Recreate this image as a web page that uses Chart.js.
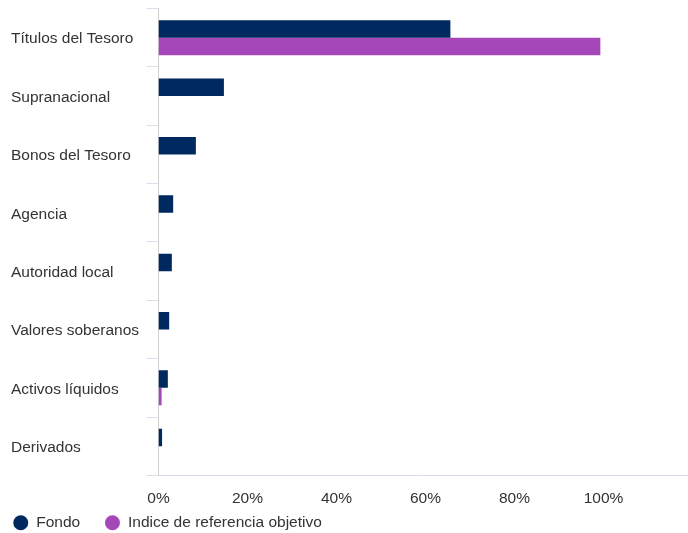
<!DOCTYPE html>
<html>
<head>
<meta charset="utf-8">
<script src="https://cdn.jsdelivr.net/npm/chart.js@4/dist/chart.umd.min.js"></script>
<style>
  html, body { margin: 0; padding: 0; background: #fff; }
  #wrap { width: 688px; height: 533px; position: relative; }
</style>
</head>
<body>
<div id="wrap"><canvas id="chart-allocation"></canvas></div>
<script>
// categories and values (percent)
var categories = ['Títulos del Tesoro', 'Supranacional', 'Bonos del Tesoro', 'Agencia',
                  'Autoridad local', 'Valores soberanos', 'Activos líquidos', 'Derivados'];
var fondo = [65.6, 14.7, 8.4, 3.3, 3.0, 2.4, 2.1, 0.8];
var indice = [99.3, null, null, null, null, null, 0.7, null];
var xTicks = [0, 20, 40, 60, 80, 100];

var navy = '#002a5f';
var purple = '#a547b8';

Chart.defaults.font.family = '"Liberation Sans", Arial, sans-serif';
Chart.defaults.font.size = 15.5;
Chart.defaults.color = '#333333';

// move the legend row to where it sits in the picture
var legendShift = {
    id: 'legendShift',
    afterLayout: (chart) => {
        chart.legend.left -= 22.5;
        chart.legend.top -= 32.5;
        chart.legend.bottom = chart.height;
    },
};

var ctx = document.getElementById('chart-allocation').getContext('2d');
var myChart = new Chart(ctx, {
    type: 'bar',
    plugins: [legendShift],
    data: {
        labels: categories,
        datasets: [
            {
                label: 'Fondo',
                data: fondo,
                backgroundColor: navy,
                borderWidth: 0,
                categoryPercentage: 0.6,
                barPercentage: 1.0,
            },
            {
                label: 'Indice de referencia objetivo',
                data: indice,
                backgroundColor: purple,
                borderWidth: 0,
                categoryPercentage: 0.6,
                barPercentage: 1.0,
            },
        ],
    },
    options: {
        indexAxis: 'y',
        responsive: true,
        maintainAspectRatio: false,
        animation: false,
        layout: {
            padding: { left: 11, right: 0, top: 0, bottom: 0 },
        },
        plugins: {
            tooltip: { enabled: false },
            legend: {
                position: 'bottom',
                align: 'start',
                maxHeight: 10,
                labels: {
                    usePointStyle: true,
                    pointStyle: 'circle',
                    boxWidth: 15.5,
                    boxHeight: 10.6,
                    padding: 24.5,
                    color: '#333333',
                    font: { size: 15.5 },
                },
            },
        },
        scales: {
            x: {
                min: 0,
                max: 119,
                afterBuildTicks: (axis) => {
                    axis.ticks = xTicks.map((v) => ({ value: v }));
                },
                ticks: {
                    padding: 14.5,
                    callback: (v) => v + '%',
                },
                grid: { display: false, drawTicks: false },
                border: { display: true, color: '#d6dce8', width: 1 },
            },
            y: {
                afterFit: (axis) => { axis.width = 147.5; },
                ticks: {
                    crossAlign: 'far',
                    padding: 0,
                    labelOffset: 1.5,
                    font: { lineHeight: 1.1 },
                },
                grid: {
                    drawOnChartArea: false,
                    drawTicks: true,
                    tickLength: 12,
                    color: '#dbe1ee',
                    offset: true,
                },
                border: { display: true, color: '#d0d0d0', width: 1 },
            },
        },
    },
});
</script>
</body>
</html>
